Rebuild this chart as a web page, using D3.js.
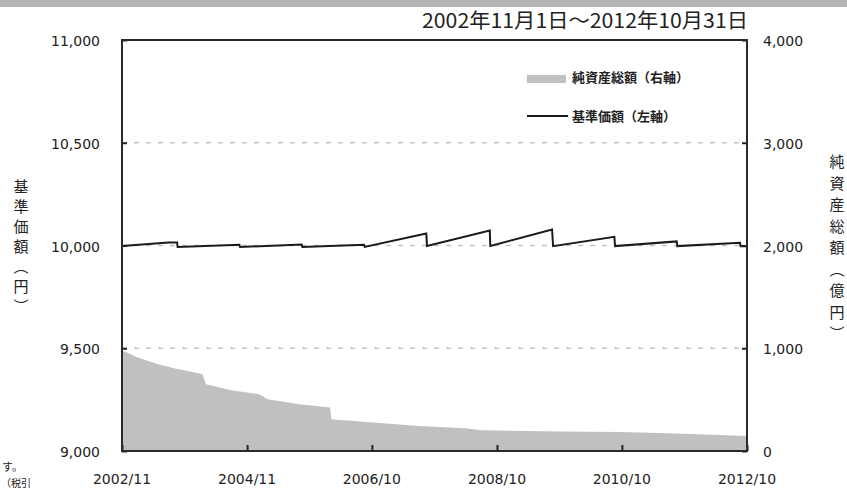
<!DOCTYPE html>
<html>
<head>
<meta charset="utf-8">
<script src="https://cdn.jsdelivr.net/npm/d3@7"></script>
<style>
  html, body { margin: 0; padding: 0; background: #fff; }
  svg { display: block; }
  text { font-family: "DejaVu Sans", Verdana, sans-serif; fill: #222; }
  .jp { font-family: "Noto Sans CJK JP", "Noto Sans", sans-serif; }
</style>
</head>
<body>
<svg id="chart" width="847" height="490"></svg>
<script>
// 基準価額（左軸）
const navDates = [
  "2002-11-01", "2003-08-01", "2003-09-19", "2003-09-22",
  "2004-09-17", "2004-09-21",
  "2005-09-16", "2005-09-20",
  "2006-09-15", "2006-09-19",
  "2007-09-14", "2007-09-18",
  "2008-09-19", "2008-09-22",
  "2009-09-18", "2009-09-24",
  "2010-09-17", "2010-09-21",
  "2011-09-16", "2011-09-20",
  "2012-09-20", "2012-09-24",
  "2012-10-31"
];
const navValues = [
  9998, 10014, 10015, 9993,
  10004, 9993,
  10005, 9993,
  10004, 9993,
  10058, 9998,
  10073, 9998,
  10078, 9997,
  10042, 9997,
  10020, 9997,
  10013, 9996,
  9996
];

// 純資産総額（右軸、億円）
const aumDates = [
  "2002-11-01", "2002-11-20", "2003-02-01", "2003-06-01", "2003-09-01",
  "2004-01-01", "2004-02-15", "2004-03-05", "2004-08-01", "2005-01-10",
  "2005-03-01", "2005-09-01", "2006-03-01", "2006-03-08", "2006-10-01",
  "2007-08-01", "2008-05-01", "2008-08-01", "2009-11-01", "2010-11-01",
  "2011-11-01", "2012-10-31"
];
const aumValues = [
  975, 965, 910, 845, 806,
  764, 748, 650, 592, 553,
  504, 455, 423, 309, 283,
  244, 221, 202, 189, 185,
  169, 146
];

const leftTicks = [9000, 9500, 10000, 10500, 11000];
const rightTicks = [0, 1000, 2000, 3000, 4000];
const xTickDates = ["2002-11-01", "2004-11-01", "2006-10-31", "2008-10-31", "2010-10-31", "2012-10-31"];

const titleText = "2002年11月1日～2012年10月31日";
const leftTitle = ["基", "準", "価", "額", "︵", "円", "︶"];
const rightTitle = ["純", "資", "産", "総", "額", "︵", "億", "円", "︶"];

const parse = d3.timeParse("%Y-%m-%d");
const navData = navDates.map((d, i) => ({ date: parse(d), value: navValues[i] }));
const aumData = aumDates.map((d, i) => ({ date: parse(d), value: aumValues[i] }));

const svg = d3.select("#chart");
const plot = { left: 122, right: 747, top: 40, bottom: 451 };

const x = d3.scaleTime()
  .domain([parse("2002-11-01"), parse("2012-10-31")])
  .range([plot.left, plot.right]);
const yL = d3.scaleLinear().domain([9000, 11000]).range([plot.bottom, plot.top]);
const yR = d3.scaleLinear().domain([0, 4000]).range([plot.bottom, plot.top]);

// top band of the page
svg.append("rect").attr("x", 0).attr("y", 0).attr("width", 847).attr("height", 7).attr("fill", "#b5b5b5");

// title
svg.append("text").attr("class", "jp")
  .attr("x", 748).attr("y", 28)
  .attr("text-anchor", "end")
  .attr("font-size", 20)
  .attr("textLength", 326).attr("lengthAdjust", "spacingAndGlyphs")
  .text(titleText);

// gridlines
svg.append("g")
  .selectAll("line")
  .data([9500, 10000, 10500])
  .join("line")
  .attr("x1", plot.left).attr("x2", plot.right)
  .attr("y1", (d) => yL(d)).attr("y2", (d) => yL(d))
  .attr("stroke", "#c4c4c4")
  .attr("stroke-width", 1.5)
  .attr("stroke-dasharray", "5,7");

// net assets area
const area = d3.area()
  .x((d) => x(d.date))
  .y0(yR(0))
  .y1((d) => yR(d.value));
svg.append("path").datum(aumData)
  .attr("fill", "#c0c0c0")
  .attr("d", area);

// NAV line
const line = d3.line()
  .x((d) => x(d.date))
  .y((d) => yL(d.value));
svg.append("path").datum(navData)
  .attr("fill", "none")
  .attr("stroke", "#1a1a1a")
  .attr("stroke-width", 2)
  .attr("stroke-linejoin", "miter")
  .attr("d", line);

// axes (ticks inward)
svg.append("g")
  .attr("transform", `translate(${plot.left},0)`)
  .call(d3.axisRight(yL).tickValues(leftTicks).tickSize(5).tickFormat(""))
  .call((g) => g.select(".domain").remove())
  .call((g) => g.selectAll("line").attr("stroke", "#222").attr("stroke-width", 2));

svg.append("g")
  .attr("transform", `translate(${plot.right},0)`)
  .call(d3.axisLeft(yR).tickValues(rightTicks).tickSize(5).tickFormat(""))
  .call((g) => g.select(".domain").remove())
  .call((g) => g.selectAll("line").attr("stroke", "#222").attr("stroke-width", 2));

svg.append("g")
  .attr("transform", `translate(0,${plot.bottom})`)
  .call(d3.axisTop(x).tickValues(xTickDates.map(parse)).tickSize(6).tickFormat(""))
  .call((g) => g.select(".domain").remove())
  .call((g) => g.selectAll("line").attr("stroke", "#222").attr("stroke-width", 2));

// frame
svg.append("rect")
  .attr("x", plot.left).attr("y", plot.top)
  .attr("width", plot.right - plot.left).attr("height", plot.bottom - plot.top)
  .attr("fill", "none").attr("stroke", "#2a2a2a").attr("stroke-width", 2);

// tick labels
const fmt = d3.format(",");
svg.append("g").selectAll("text").data(leftTicks).join("text")
  .attr("x", 100).attr("y", (d) => yL(d) + 6)
  .attr("text-anchor", "end").attr("font-size", 14)
  .text((d) => fmt(d));

svg.append("g").selectAll("text").data(rightTicks).join("text")
  .attr("x", 763).attr("y", (d) => yR(d) + 6)
  .attr("text-anchor", "start").attr("font-size", 14)
  .text((d) => fmt(d));

const xFmt = d3.timeFormat("%Y/%m");
svg.append("g").selectAll("text").data(xTickDates.map(parse)).join("text")
  .attr("x", (d) => x(d)).attr("y", 484)
  .attr("text-anchor", "middle").attr("font-size", 14)
  .text((d) => xFmt(d));

// vertical axis titles
svg.append("g").selectAll("text").data(leftTitle).join("text")
  .attr("class", "jp")
  .attr("x", 21).attr("y", (d, i) => 192 + i * 20)
  .attr("text-anchor", "middle").attr("font-size", 15)
  .text((d) => d);

svg.append("g").selectAll("text").data(rightTitle).join("text")
  .attr("class", "jp")
  .attr("x", 837).attr("y", (d, i) => 167 + i * 21.5)
  .attr("text-anchor", "middle").attr("font-size", 15)
  .text((d) => d);

// legend
svg.append("rect").attr("x", 527).attr("y", 75).attr("width", 39).attr("height", 8).attr("fill", "#c0c0c0");
svg.append("text").attr("class", "jp").attr("x", 572).attr("y", 82)
  .attr("font-size", 13).attr("font-weight", "bold").attr("fill", "#333")
  .text("純資産総額（右軸）");
svg.append("line").attr("x1", 527).attr("x2", 568).attr("y1", 116).attr("y2", 116)
  .attr("stroke", "#1a1a1a").attr("stroke-width", 2);
svg.append("text").attr("class", "jp").attr("x", 572).attr("y", 121)
  .attr("font-size", 13).attr("font-weight", "bold").attr("fill", "#333")
  .text("基準価額（左軸）");

// cropped text from the source page
svg.append("text").attr("class", "jp").attr("x", 2).attr("y", 471).attr("font-size", 11).text("す。");
svg.append("text").attr("class", "jp").attr("x", 1).attr("y", 487).attr("font-size", 10).text("（税引");
</script>
</body>
</html>
